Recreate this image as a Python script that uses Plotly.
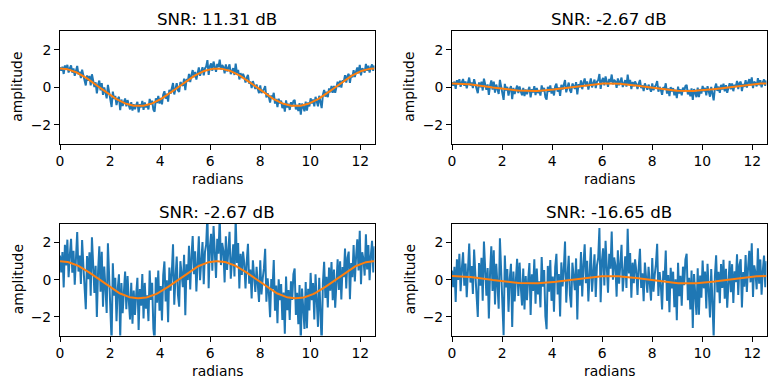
import numpy as np
import plotly.graph_objects as go

# ---- data -------------------------------------------------------------
titles = ["SNR: 11.31 dB", "SNR: -2.67 dB", "SNR: -2.67 dB", "SNR: -16.65 dB"]
signal_amp = [1.0, 0.2, 1.0, 0.2]      # amplitude of the clean cosine per panel
noise_scale = [0.2, 0.2, 1.0, 1.0]     # scale of the shared noise per panel

x_ticks = [0, 2, 4, 6, 8, 10, 12]
y_ticks = [-2, 0, 2]

# clean unit cosine (orange), sampled on the same grid as the noise
half_down = [0.999, 0.995, 0.989, 0.981, 0.970, 0.957, 0.942, 0.924, 0.904, 0.882,
             0.858, 0.832, 0.803, 0.773, 0.741, 0.707, 0.672, 0.634, 0.596, 0.556,
             0.514, 0.471, 0.428, 0.383, 0.337, 0.290, 0.243, 0.195, 0.147, 0.098,
             0.049, 0.000, -0.049, -0.098, -0.147, -0.195, -0.243, -0.290, -0.337,
             -0.383, -0.428, -0.471, -0.514, -0.556, -0.596, -0.634, -0.672, -0.707,
             -0.741, -0.773, -0.803, -0.832, -0.858, -0.882, -0.904, -0.924, -0.942,
             -0.957, -0.970, -0.981, -0.989, -0.995, -0.999, -1.000]
half_up = [-0.999, -0.995, -0.989, -0.981, -0.970, -0.957, -0.942, -0.924, -0.904,
           -0.882, -0.858, -0.832, -0.803, -0.773, -0.741, -0.707, -0.672, -0.634,
           -0.596, -0.556, -0.514, -0.471, -0.428, -0.383, -0.337, -0.290, -0.243,
           -0.195, -0.147, -0.098, -0.049, 0.000, 0.049, 0.098, 0.147, 0.195, 0.243,
           0.290, 0.337, 0.383, 0.428, 0.471, 0.514, 0.556, 0.596, 0.634, 0.672,
           0.707, 0.741, 0.773, 0.803, 0.832, 0.858, 0.882, 0.904, 0.924, 0.942,
           0.957, 0.970, 0.981, 0.989, 0.995, 0.999, 1.000]
clean = [1.000] + half_down + half_up + half_down + half_up

# shared noise (estimated from the lower panels)
noise = [
    0.3, -0.6, 0.5, -1.4, 0.9, -0.2, 1.2, -0.8, 0.4, 1.3, -0.5, 0.7, -1.1, 0.9, 1.8, -0.3, 0.6, -0.9, 1.5, 0.2,
    -0.7, -2.1, 0.8, -0.4, 1.1, -1.2, 2.0, 0.3, -0.9, 0.6, -2.1, 0.4, 1.8, -0.6, 1.6, -1.3, 0.9, -0.2, -1.5, 2.3,
    0.5, -0.8, -2.9, 1.4, -0.3, 0.7, -1.6, 0.2, 1.0, -2.4, 0.6, -1.0, 0.3, 1.3, -0.7, 1.1, -0.2, -1.2, 0.8, -1.4,
    0.4, -0.9, 0.2, 1.1, -1.7, 0.5, -0.4, 1.3, -1.1, 0.8, -0.6, 0.1, -1.3, 1.4, -0.2, 0.7, -1.8, -2.5, 0.9, -0.5,
    1.2, -1.0, 0.3, -1.6, 0.8, 1.5, -0.7, 0.4, -1.9, 1.0, -0.3, 0.6, 2.1, -1.2, 0.2, 1.3, -0.8, -1.5, 0.9, 0.1,
    -0.6, 1.1, -2.2, 0.5, -0.4, 1.4, -1.0, 0.7, 1.8, -0.3, 0.9, -1.3, 0.4, 1.6, -0.8, 0.2, 1.2, -1.1, 0.6, 1.0,
    2.6, -1.4, 0.8, 1.5, -0.5, 1.9, 0.3, -0.9, 1.2, 0.4, 2.4, -0.2, 1.0, 0.6, -1.1, 1.4, -0.4, 0.7, 1.7, -0.8,
    0.5, 1.1, -0.6, 2.6, 0.2, 1.3, -1.1, 0.8, -0.3, 1.0, 0.4, -0.9, 0.6, 1.6, -0.5, 0.3, -1.2, 0.9, 0.1, -0.7,
    0.7, -0.4, -1.1, 1.2, -0.6, 0.3, 0.9, 2.0, -0.8, 0.5, -0.2, -1.5, 0.6, 0.1, 1.7, -1.0, 0.4, -1.6, 0.8, -0.3,
    0.6, -1.3, 0.2, -2.0, 1.1, -0.7, 0.4, -1.2, 0.9, -0.1, 1.3, 1.6, -0.9, 0.3, -1.4, 0.7, -2.4, 0.5, -0.6, -1.7,
    0.8, -1.7, 0.4, -0.8, 1.2, -0.3, 0.6, -1.4, 1.0, -0.5, -1.9, 0.7, -0.9, -3.0, 0.3, 1.4, -0.6, 0.5, -1.2, 0.9,
    -0.4, 1.1, -1.0, 0.6, -1.5, 0.2, 1.0, -0.7, 0.8, -1.3, 0.4, -0.2, 1.3, -0.9, 0.7, 1.0, -1.6, 0.3, -0.5, 1.2,
    -0.8, 0.5, 1.4, -0.3, 1.8, -1.1, 0.6, 0.2, -0.7, 1.5, -0.4, 0.9, -1.0, 0.3, 1.1, -0.6, 0.8,
]

# ---- figure -----------------------------------------------------------
W, H = 776, 389
x = np.linspace(0, 4 * np.pi, len(noise))
clean_a = np.array(clean)
noise_a = np.array(noise)

BLUE = "#1f77b4"
ORANGE = "#ff7f0e"
FONT = "DejaVu Sans"
TICK_SIZE = 13.9
TITLE_SIZE = 16.7

# plot-area boxes in pixels: (left, right, top, bottom)
boxes = [(60, 374.5, 31, 143.5), (452, 766.5, 31, 143.5),
         (60, 374.5, 224, 335.5), (452, 766.5, 224, 335.5)]

fig = go.Figure()
annotations = []
for k in range(4):
    xa = "x" if k == 0 else f"x{k+1}"
    ya = "y" if k == 0 else f"y{k+1}"
    noisy = signal_amp[k] * clean_a + noise_scale[k] * noise_a
    fig.add_trace(go.Scatter(x=x, y=noisy, mode="lines", xaxis=xa, yaxis=ya,
                             line=dict(color=BLUE, width=2), showlegend=False))
    fig.add_trace(go.Scatter(x=x, y=signal_amp[k] * clean_a, mode="lines", xaxis=xa, yaxis=ya,
                             line=dict(color=ORANGE, width=2), showlegend=False))
    l, r, t, b = boxes[k]
    axis_common = dict(showline=True, mirror=True, linecolor="black", linewidth=1,
                       ticks="outside", ticklen=5, tickwidth=1, tickcolor="black",
                       showgrid=False, zeroline=False, automargin=False,
                       tickfont=dict(family=FONT, size=TICK_SIZE, color="black"))
    fig.layout[("xaxis" if k == 0 else f"xaxis{k+1}")] = dict(
        domain=[l / W, r / W], anchor=ya, range=[0, 4 * np.pi],
        tickvals=x_ticks, **axis_common)
    fig.layout[("yaxis" if k == 0 else f"yaxis{k+1}")] = dict(
        domain=[1 - b / H, 1 - t / H], anchor=xa, range=[-3, 3],
        tickvals=y_ticks, **axis_common)
    # panel title
    annotations.append(dict(text=titles[k], xref="paper", yref="paper",
                            x=(l + r) / 2 / W, y=1 - (t - 12) / H,
                            xanchor="center", yanchor="middle", showarrow=False,
                            font=dict(family=FONT, size=TITLE_SIZE, color="black")))
    # x-axis label
    annotations.append(dict(text="radians", xref="paper", yref="paper",
                            x=(l + r) / 2 / W, y=1 - (b + 35) / H,
                            xanchor="center", yanchor="middle", showarrow=False,
                            font=dict(family=FONT, size=TICK_SIZE, color="black")))
    # y-axis label
    annotations.append(dict(text="amplitude", xref="paper", yref="paper",
                            x=(l - 42.5) / W, y=1 - (t + b) / 2 / H, textangle=-90,
                            xanchor="center", yanchor="middle", showarrow=False,
                            font=dict(family=FONT, size=TICK_SIZE, color="black")))

fig.update_layout(width=W, height=H, margin=dict(l=0, r=0, t=0, b=0),
                  paper_bgcolor="white", plot_bgcolor="white",
                  annotations=annotations, font=dict(family=FONT))
fig.write_html("out.html",
               config={"displayModeBar": False},
               post_script="document.body.style.margin='0';"
                           "document.body.style.overflow='hidden';")
